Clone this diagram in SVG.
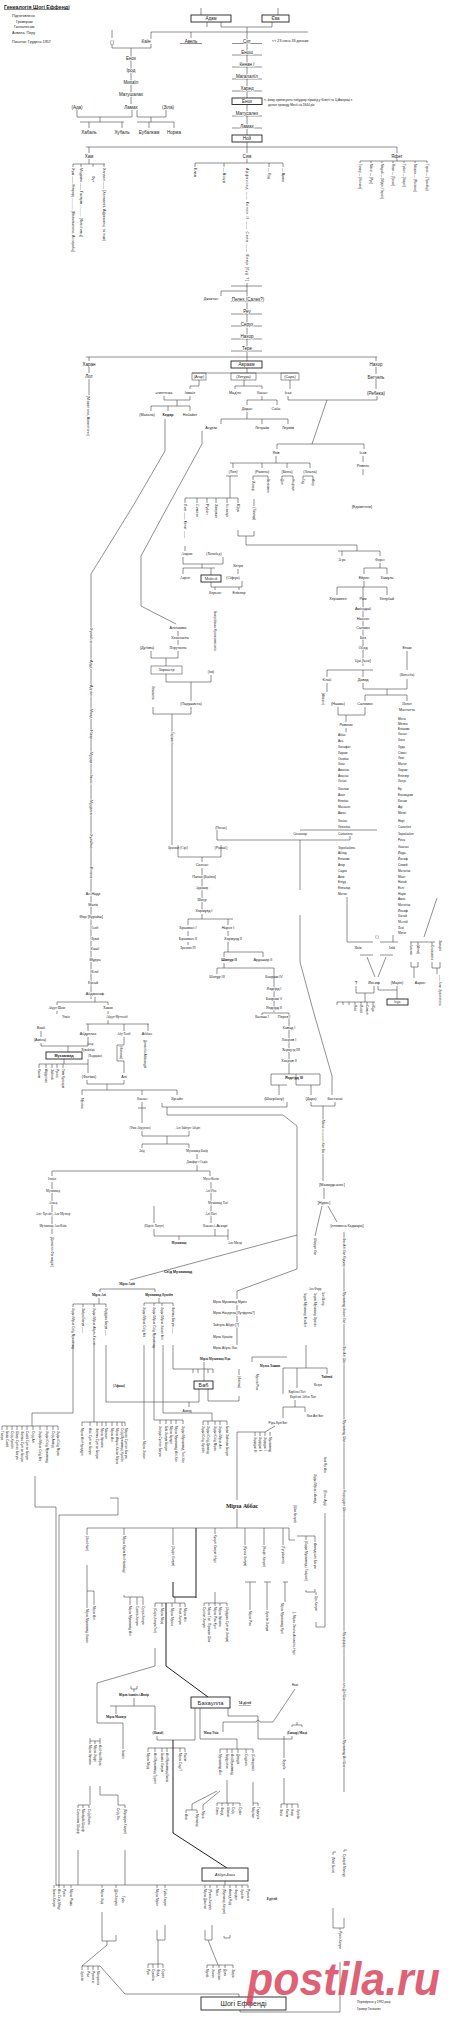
<svg xmlns="http://www.w3.org/2000/svg" width="460" height="2018" viewBox="0 0 460 2018">
<style>
text{font-family:"Liberation Sans",Arial,sans-serif;font-size:4.5px;fill:#1a1a1a;text-anchor:middle;dominant-baseline:central}
.s{font-size:3.7px}
.xs{font-size:3.1px}
.l,.v{text-anchor:start}
.b{font-weight:bold}
.h{stroke:#fff;stroke-width:1.3px;paint-order:stroke;stroke-linejoin:round}
.sf{font-family:"Liberation Serif",serif}
.c{stroke:#333;stroke-width:.55;fill:none}
.k{stroke:#222;stroke-width:1;fill:none}
.bx{fill:#fff;stroke:#222;stroke-width:.9}
.bt{fill:none;stroke:#333;stroke-width:.5}
</style>
<rect width="460" height="2018" fill="#fff"/>
<g id="connectors">
<path class="c" d="M201,8V15 M278,8V15 M207,22V27 M221,22V27H272V22 M247,27V32 M151,32H308 M151,32V39 M191,32V38 M247,32V135
M180,43.5H202 M232,43.5H262 M232,55H262 M232,67H262 M232,79H262 M232,91H262 M232,116H262 M232,128H262
M112,30V38 M112,44V48H151V44 M131,48V104 M77,110V117H132V110 M100,117V122 M80,122H124 M89,122V128 M122,122V128
M137,110V117H166V110 M151,117V122 M137,122H174 M149,122V128 M174,122V128
M247,142V147 M86,147H397 M89,147V153 M247,147V153 M397,147V153
M89,159V164 M73,164H105 M73,164V167 M81,164V167 M93,164V167 M104,164V167
M247,159V163 M195,163H283 M195,163V167 M224,163V167 M269,163V167 M283,163V167
M397,159V161 M360,161H427 M360,161V163 M371,161V163 M382,161V163 M393,161V163 M404,161V163 M415,161V163 M427,161V163
M231,286H262 M247,283V361 M221,291H247 M221,291V296 M231,301.5H264 M231,314H262 M231,326H262 M231,339H262 M231,351H262
M86,357H377 M89,357V361 M376,357V361 M89,367V373 M89,379V395 M376,367V374 M376,380V389
M247,368V373 M192,373H298
M199,380V386H190V389 M164,396V400H190V396 M177,400V406 M151,406H190 M151,406V411 M168,406V411 M190,406V411
M244,380V386 M235,386H262 M235,386V389 M262,386V389 M262,396V400 M247,400H277 M247,400V405 M277,400V405 M247,412V419 M221,419H288 M221,419V424 M262,419V424 M288,419V424
M290,380V389 M288,396V400H377V396 M327,400L312,444 M277,444H364 M277,444V449 M364,444V449 M363,456V462 M363,469V475
M276,456V463 M230,463H310 M233,463V468 M262,463V468 M287,463V468 M310,463V468
M226,476H238 M230,476V498 M185,498H238 M185,498V503 M197,498V503 M207,498V503 M216,498V503 M227,498V503 M238,498V503
M253,476H268 M253,476V480 M268,476V479 M282,476H293 M282,476V479 M293,476V479 M303,476H313 M303,476V479 M313,476V479 M254,499V506
M238,530V536H254V531 M246,536V545H357V551 M338,551H380 M342,551V556 M380,551V556
M380,563V568 M364,568H387 M364,568V574 M387,568V574 M364,581V587 M337,587H387 M337,587V595 M387,587V595 M363,587V666
M327,670H373 M327,670V677 M363,670V677 M407,651V670 M363,683V689H407V679 M387,689V695 M365,695H407 M365,695V701 M407,695V701 M327,683V692
M338,707V715H365V707 M346,715V722 M346,728V732
M185,546V551 M183,557V564H223V557 M202,564V568 M183,568H215 M183,568V574 M211,568V575 M238,569V574 M211,582V587H242V581 M215,587V590 M239,587V590
M165,419V451L133,506L91,574V999
M202,431V444L168,506L141,556V606L176,624
M178,631V645 M151,651V658H178V651 M166,658V666
M166,674V682H211V675 M191,682V701 M153,707V714H191V707 M172,714V845
M217,830V840H350V836 M300,830H377 M300,840V890 M300,915V962L313,1010L332,1076V1095
M178,845V857H221V845 M202,857V862 M202,868V911 M202,914V919 M188,919H233 M188,919V925 M228,919V925 M188,931V936 M188,942V945 M228,931V936 M228,942V952 M224,952H263 M224,952V957 M263,952V957 M224,963V968 M217,968H274 M217,968V974 M274,968V1012
M262,1013H289 M262,1013V1015 M289,1013V1074 M271,1074H320 M271,1074V1085H287 M279,1085V1095 M296,1074V1085H320V1074 M311,1085V1095
M311,1102V1106H335V1102 M323,1106V1181 M324,1188V1199 M322,1206L315,1236 M328,1206L337,1222
M347,897V942H373 M393,935V942 M380,942H398 M360,955H373 M380,955H393 M367,957L375,977 M386,957L378,977 M356,986V993H374V986 M378,986V990H397V986 M397,990V999 M365,993V1002 M337,1002H375 M337,1002V1005 M343,1002V1005 M349,1002V1005 M355,1002V1005 M361,1002V1005 M367,1002V1005 M373,1002V1005
M437,898L424,937 M410,942H435 M411,942V945 M418,942V945 M411,962V967H418V962 M414,967V978 M432,942V945 M432,962V968H440V962 M437,968V974
M95,997V1002 M57,1002H108 M57,1002V1005 M108,1002V1005 M57,1011V1014 M108,1011V1014 M108,1020V1024 M86,1024H149 M88,1024V1031 M124,1024V1031 M148,1024V1031
M41,1031V1037 M41,1043V1046H68V1052 M88,1037V1046H68 M88,1059V1064 M64,1059V1064 M39,1064H88 M39,1064V1068 M46,1064V1068 M52,1064V1068 M57,1064V1068 M63,1064V1068 M88,1064V1073
M124,1037V1045 M117,1045H124 M117,1045V1061H124 M124,1061V1073 M87,1080V1084H124V1080 M107,1084V1090 M82,1090H177 M82,1090V1095 M142,1090V1095 M177,1090V1095
M142,1102V1123 M138,1108H146 M162,1103V1107H287V1102 M167,1107V1115H283L297,1126V1269L237,1291V1299 M297,1235L130,1280
M142,1131V1136H189V1131 M167,1136V1144 M142,1144H189 M142,1144V1148 M189,1144V1148 M197,1154V1159 M197,1165V1171 M52,1171H210 M52,1171V1176 M210,1171V1176
M52,1182V1234 M211,1182V1223 M154,1206V1223 M154,1229V1236H228V1229 M215,1229V1236 M179,1236V1240 M228,1236V1240
M100,1289H155 M100,1289V1292 M155,1289V1292 M99,1298V1304 M73,1304H106 M73,1304V1307 M83,1304V1307 M94,1304V1307 M106,1304V1307 M159,1298V1303 M144,1303H173 M144,1303V1306 M154,1303V1306 M162,1303V1306 M173,1303V1306
M237,1305V1345 M173,1345V1369H213 M193,1369V1373 M198,1369V1373 M208,1369V1373 M213,1369V1373 M204,1362V1381 M252,1357H287 M252,1357V1362 M239,1369V1375
M106,1345V1402H199V1389 M208,1389V1401H239V1396 M189,1402V1407 M163,1345V1413H212V1421 M203,1421H227 M203,1421V1425 M208,1421V1425 M215,1421V1425 M220,1421V1425 M227,1421V1425
M154,1345V1420H183 M160,1420V1424 M166,1420V1424 M171,1420V1424 M176,1420V1424 M183,1420V1424 M144,1345V1440
M94,1345V1422 M82,1422H125 M82,1422V1426 M90,1422V1426 M97,1422V1426 M102,1422V1426 M106,1422V1426 M112,1422V1426 M117,1422V1426 M122,1422V1426 M125,1422V1426
M73,1345V1413H32V1426 M2,1426H58 M2,1426V1430 M7,1426V1430 M12,1426V1430 M17,1426V1430 M22,1426V1430 M27,1426V1430 M33,1426V1430 M40,1426V1430 M47,1426V1430 M53,1426V1430 M58,1426V1430
M35,1476V1507H56V1886 M110,1498H118V1515H59V1886
M306,1345V1368 M283,1368H327 M283,1368V1394 M297,1368V1388 M327,1368V1374 M295,1400V1407 M283,1407H305 M283,1407V1418 M305,1407V1412
M275,1426L265,1432H237V1500 M255,1432V1436 M260,1432V1436 M265,1432V1436 M270,1432V1436
M237,1509V1528 M87,1528H289 M87,1528V1535 M124,1528V1535 M173,1528V1545 M215,1528V1534 M245,1528V1545 M264,1528V1545 M283,1528V1545 M289,1528V1540H295
M87,1565V1608 M87,1591H94V1605 M124,1595V1597H143 M130,1597V1605 M137,1597V1605 M143,1597V1605
M175,1597V1603 M155,1603H185 M155,1603V1607 M162,1603V1607 M172,1603V1607 M180,1603V1607 M185,1603V1607
M155,1648V1666L97,1683V1723H123V1749
M215,1592V1603 M204,1603H227 M204,1603V1606 M209,1603V1606 M215,1603V1606 M220,1603V1606 M227,1603V1606
M245,1582H256 M250,1582V1610 M264,1582H271 M267,1582V1610 M283,1582H288 M285,1582V1602
M297,1536H315 M306,1536V1540 M315,1536V1542 M306,1590V1592H315V1589 M316,1592V1595 M325,1513V1627H316V1622
M344,1232V1792
M131,1686V1689H137V1686 M134,1689V1692 M134,1698V1706 M110,1706H155 M116,1706V1714 M155,1706V1730
M195,1708V1740H157V1736 M148,1748H185 M148,1748V1752 M155,1748V1752 M162,1748V1752 M167,1748V1752 M180,1748V1752 M185,1748V1752
M200,1708V1739H237V1749 M220,1749H253 M220,1749V1753 M227,1749V1753 M232,1749V1753 M238,1749V1753 M246,1749V1753 M253,1749V1753
M228,1708V1716H258V1739H292V1736 M223,1732V1722H256Q258,1718 260,1722H273L295,1689 M292,1727V1725H302V1727 M297,1725V1722
M284,1736V1758 M284,1778V1804 M281,1804H298 M281,1804V1808 M287,1804V1808 M292,1804V1808 M298,1804V1808
M220,1791L203,1805 M217,1791L192,1804V1810 M186,1810H197 M186,1810V1813 M197,1810V1813 M203,1805V1810
M227,1780V1803 M217,1803H240 M217,1803V1806 M222,1803V1806 M228,1803V1806 M233,1803V1806 M240,1803V1806 M253,1782V1803H258 M253,1803V1806 M258,1803V1806
M90,1738V1744 M90,1741H100 M95,1741V1744 M100,1738V1744 M90,1786V1805 M78,1805H89 M78,1805V1808 M83,1805V1808 M89,1805V1808 M100,1786V1795H118V1805 M118,1805H125 M125,1805V1808
M78,1850V1885 M125,1850V1885 M56,1885H248 M225,1881V1885
M54,1885V1888 M59,1885V1888 M64,1885V1888 M71,1885V1888 M102,1885V1888 M116,1885V1888 M157,1885V1888 M165,1885V1888 M205,1885V1888 M210,1885V1888 M217,1885V1888 M224,1885V1888 M230,1885V1888 M236,1885V1888 M242,1885V1888 M248,1885V1888
M102,1912V1941H116V1935 M107,1941V1945L82,1966 M82,1966H100 M82,1966V1970 M88,1966V1970 M93,1966V1970 M98,1966V1970 M100,1966L125,1994H239V1997
M157,1930V1940H165V1925 M158,1940V1964 M148,1964H163 M148,1964V1968 M153,1964V1968 M158,1964V1968 M163,1964V1968
M205,1930V1940H212V1925 M208,1940L218,1965 M207,1965H233 M207,1965V1968 M213,1965V1968 M219,1965V1968 M225,1965V1968 M233,1965V1968 M224,1936V1938H230V1935
M333,1855V1852H336 M344,1852V1850H347 M333,1908V1928H344V1918 M340,1928V1930 M340,1962V2012H240V2010"/>
<path class="k" d="M196,1528V1598 M173,1582V1597H196 M166,1603V1666L208,1697 M173,1740V1833L227,1868"/>
</g>
<g id="header">
<text x="4" y="6.5" class="l b" style="font-size:5.2px;text-decoration:underline">Генеалогія Шогі Еффенді</text>
<text x="12" y="16" class="l s">Підготовлено</text>
<text x="16" y="21.5" class="l s">Гровером</text>
<text x="14" y="27" class="l s">Гонзалесом</text>
<text x="12" y="33" class="l s">Асвила, Перу</text>
<text x="12" y="42" class="l s">Початок: Грудень 1957</text>
</g>
<g id="n-adam"><rect class="bx" x="191" y="15" width="40" height="7"/><text x="211" y="18.5">Адам</text></g>
<g id="n-eve"><rect class="bx" x="262" y="15" width="27" height="7"/><text x="275.5" y="18.5">Єва</text></g>
<g id="lineage-cain">
<text x="146" y="41">Каїн</text><text x="191" y="41">Авель</text><text x="112" y="42">(   )</text>
<text x="131" y="58" class="h">Енох</text><text x="131" y="70" class="h">Ірод</text><text x="131" y="82" class="h">Михаїл</text><text x="131" y="94" class="h">Матушалах</text><text x="131" y="107">Ламах</text>
<text x="77" y="107">(Ада)</text><text x="168" y="107">(Зіла)</text>
<text x="89" y="132">Хабаль</text><text x="122" y="132">Хубаль</text><text x="149" y="132">Еубалкам</text><text x="174" y="132">Норма</text>
</g>
<g id="lineage-seth">
<text x="247" y="41" class="h">Сит</text><text x="272" y="41" class="l s">&lt;&lt; 23 сина    33 доньки</text>
<text x="247" y="52" class="h">Енош</text><text x="247" y="64" class="h">Кенан I</text><text x="247" y="76" class="h">Магалалїл</text><text x="247" y="88" class="h">Харед</text>
<rect class="bx" x="232" y="98" width="30" height="6.5"/><text x="247" y="101.3">Енох</text>
<text x="264" y="100" class="l xs">&lt;- йому приписують побудову пірамід у Єгипті та Ц.Америці з</text>
<text x="268" y="105" class="l xs">датою проходу Месії на 1844 рік</text>
<text x="247" y="113" class="h">Матусалех</text><text x="247" y="126" class="h">Ламах</text>
</g>
<g id="n-noah"><rect class="bx" x="232" y="135" width="30" height="7"/><text x="247" y="138.5">Ной</text></g>
<g id="sons-of-noah">
<text x="89" y="156">Хам</text><text x="247" y="156">Сим</text><text x="397" y="156">Яфет</text>
<text class="s v" transform="translate(73,168) rotate(90)">Хуш —— Німрод ............ [Вавилоняни, Ассирійці]</text>
<text class="s v" transform="translate(81,168) rotate(90)">Міцраїм —— Гаслуїм ........... [Філістимці]</text>
<text class="s v" transform="translate(93,176) rotate(90)">Фут</text>
<text class="s v" transform="translate(104,168) rotate(90)">Ханаан —— [Ханаанеї, Африканці та інші]</text>
<text class="s v" transform="translate(195,168) rotate(90)">Елам</text>
<text class="s v" transform="translate(224,168) rotate(90)">— Ассур</text>
<text class="s v h" transform="translate(247,168) rotate(90)" textLength="113">Арфаксад —— Кенан II —— Сала —— Евер [Гуд ?]</text>
<text class="s v" transform="translate(269,168) rotate(90)">— Луд</text>
<text class="s v" transform="translate(283,168) rotate(90)">— Арам</text>
<text class="xs v" transform="translate(360,164) rotate(90)">Гомер — [Кельти]</text>
<text class="xs v" transform="translate(371,164) rotate(90)">Магог — [Рус]</text>
<text class="xs v" transform="translate(382,164) rotate(90)">Мадай — [Мідія, Персія]</text>
<text class="xs v" transform="translate(393,164) rotate(90)">Яван — [Греки]</text>
<text class="xs v" transform="translate(404,164) rotate(90)">Тубал — [Іберії]</text>
<text class="xs v" transform="translate(415,164) rotate(90)">Мешех — [Росіяни]</text>
<text class="xs v" transform="translate(427,164) rotate(90)">Тирас — [Тракійці]</text>
</g>
<g id="lineage-eber">
<text x="211" y="299" class="s">Джоктан</text><text x="248" y="299" class="h">Пелех (Салех?)</text>
<text x="247" y="311" class="h">Реу</text><text x="247" y="324" class="h">Серух</text><text x="247" y="336" class="h">Нахор</text><text x="247" y="348" class="h">Тере</text>
<text x="89" y="364">Харан</text><text x="89" y="376">Лот</text>
<text class="s v" transform="translate(88,396) rotate(90)">[Моавітяни, Амонітяни]</text>
<text x="376" y="364">Нахор</text><text x="376" y="377">Бетуель</text><text x="376" y="393">(Ребека)</text>
</g>
<g id="n-abraham"><rect class="bx" x="231" y="361" width="31" height="7"/><text x="246.5" y="364.5">Авраам</text></g>
<g id="lineage-abraham">
<rect class="bt" x="192" y="373" width="14" height="7"/><text x="199" y="377" class="s">(Агар)</text>
<rect class="bt" x="231" y="373" width="25" height="7"/><text x="243.5" y="377" class="s">(Хетура)</text>
<rect class="bt" x="281" y="373" width="18" height="7"/><text x="290" y="377" class="s">(Сара)</text>
<text x="164" y="393" class="s">єгиптянка</text><text x="190" y="393" class="s">Ізмаїл</text>
<text x="147" y="415" class="s">(Махала)</text><text x="168" y="415" class="s b">Кедар</text><text x="190" y="415" class="s">Небайот</text>
<text x="235" y="393" class="s">Мад'ян</text><text x="262" y="393" class="s">Хасан</text>
<text x="247" y="409" class="s">Дедан</text><text x="276" y="409" class="s">Саба</text>
<text x="211" y="428" class="s">Асурім</text><text x="262" y="428" class="s">Летушім</text><text x="288" y="428" class="s">Леумім</text>
<text x="288" y="393" class="s">Ісак</text>
<text x="276" y="453" class="s">Яків</text><text x="363" y="453" class="s">Ісав</text><text x="363" y="466" class="s">Ревель</text><text x="362" y="507" class="s">[Едомітяни]</text>
<text x="233" y="472" class="s">(Лея)</text><text x="262" y="472" class="s">(Рахель)</text><text x="287" y="472" class="s">(Білга)</text><text x="310" y="472" class="s">(Зільпа)</text>
<text class="xs v" transform="translate(253,481) rotate(90)">Йосиф</text>
<text class="xs v" transform="translate(268,479) rotate(90)">Веніямин</text>
<text class="xs v" transform="translate(282,479) rotate(90)">Дан</text>
<text class="xs v" transform="translate(293,479) rotate(90)">Нефталі</text>
<text class="xs v" transform="translate(303,479) rotate(90)">Гад</text>
<text class="xs v" transform="translate(313,479) rotate(90)">Асер</text>
<text class="s v" transform="translate(185,504) rotate(90)">Леві —— Кегат ——</text>
<text class="s v" transform="translate(197,504) rotate(90)">Симеон</text>
<text class="s v" transform="translate(207,504) rotate(90)">Рубен</text>
<text class="s v" transform="translate(216,504) rotate(90)">Завулон</text>
<text class="s v" transform="translate(227,504) rotate(90)">Іссахар</text>
<text class="s v" transform="translate(238,504) rotate(90)">Юда</text>
<text class="s v" transform="translate(254,507) rotate(90)">(Тамар)</text>
</g>
<g id="lineage-moses">
<text x="187" y="554" class="s sf">Амрам</text><text x="214" y="554" class="s sf">(Хочабед)</text>
<text x="185" y="578" class="s sf">Аарон</text><text x="233" y="578" class="s sf">(Сіфора)</text><text x="238" y="566" class="s">Хетро</text>
<text x="215" y="593" class="s">Херсон</text><text x="239" y="593" class="s">Еліезер</text>
</g>
<g id="n-moses"><rect class="bx" x="201" y="575" width="20" height="7"/><text x="211" y="578.5" class="s sf">Мойсей</text></g>
<g id="lineage-david">
<text x="342" y="560" class="s sf">Зера</text><text x="380" y="560" class="s sf">Фарес</text>
<text x="364" y="578" class="s">Ейрон</text><text x="387" y="578" class="s">Хамуль</text>
<text x="338" y="599" class="s">Херамеел</text><text x="363" y="599" class="s">Рам</text><text x="387" y="599" class="s">Келубай</text>
<text x="363" y="609" class="s h">Амінадаб</text><text x="363" y="619" class="s h">Наасон</text><text x="363" y="628" class="s h">Салмон</text><text x="363" y="638" class="s h">Боз</text><text x="363" y="648" class="s h">Обед</text><text x="363" y="661" class="s h">Цаї [Ієсе]</text>
<text x="407" y="648" class="s">Елам</text><text x="407" y="675" class="s sf">(Батсеба)</text>
<text x="327" y="680" class="s">Єлаб</text><text x="363" y="680" class="s">Давид</text>
<text class="xs v" transform="translate(323,693) rotate(90)">(Абігаїл)</text>
<text x="338" y="704" class="s">(Наама)</text><text x="365" y="704" class="s">Саломон</text><text x="407" y="704" class="s sf">Натан</text><text x="407" y="710" class="s">Маттатта</text>
<text x="346" y="725" class="s">Ровоам</text>
</g>
<g id="list-matthew" class="xs">
<text x="338" y="735" class="l xs">Абіас</text><text x="338" y="741" class="l xs">Аса</text><text x="338" y="747" class="l xs">Хосафат</text><text x="338" y="752.7" class="l xs">Хорам</text><text x="338" y="758.7" class="l xs">Охозіас</text><text x="338" y="764.3" class="l xs">Хоас</text><text x="338" y="770" class="l xs">Амасіас</text><text x="338" y="775.7" class="l xs">Азасіас</text><text x="338" y="781.3" class="l xs">Уссіас</text>
<text x="338" y="789.3" class="l xs">Хоатам</text><text x="338" y="795.3" class="l xs">Ахаз</text><text x="338" y="801" class="l xs">Езекіас</text><text x="338" y="807" class="l xs">Манасес</text><text x="338" y="813" class="l xs">Амон</text>
<text x="338" y="821" class="l xs">Хосіас</text><text x="338" y="827" class="l xs">Хеконіас</text><text x="338" y="834" class="l xs">Салатіель</text>
<text x="338" y="848.3" class="l xs">Зоробабель</text><text x="338" y="853.3" class="l xs">Абіюд</text><text x="338" y="859" class="l xs">Еліаким</text><text x="338" y="865" class="l xs">Азор</text><text x="338" y="870.7" class="l xs">Садок</text><text x="338" y="876.7" class="l xs">Ахім</text><text x="338" y="882.3" class="l xs">Еліуд</text><text x="338" y="888.3" class="l xs">Елеазар</text><text x="338" y="894" class="l xs">Матан</text>
</g>
<g id="list-luke">
<text x="398" y="718.7" class="l xs">Мена</text><text x="398" y="724.3" class="l xs">Мелеа</text><text x="398" y="728.7" class="l xs">Еліаким</text><text x="398" y="734.3" class="l xs">Хонан</text><text x="398" y="740.3" class="l xs">Хосе</text><text x="398" y="747" class="l xs">Худа</text><text x="398" y="752.7" class="l xs">Сімон</text><text x="398" y="758.3" class="l xs">Леві</text><text x="398" y="763.7" class="l xs">Матат</text><text x="398" y="769.7" class="l xs">Хорам</text><text x="398" y="775.7" class="l xs">Еліезер</text><text x="398" y="781.3" class="l xs">Хесус</text>
<text x="398" y="789.3" class="l xs">Ер</text><text x="398" y="795.3" class="l xs">Ельмадам</text><text x="398" y="801" class="l xs">Косам</text><text x="398" y="807" class="l xs">Аді</text><text x="398" y="813" class="l xs">Мелкі</text>
<text x="398" y="821" class="l xs">Нері</text><text x="398" y="827" class="l xs">Салатіел</text><text x="398" y="834" class="l xs">Зоробабел</text><text x="398" y="840" class="l xs">Реса</text>
<text x="398" y="847.3" class="l xs">Хоанан</text><text x="398" y="853.3" class="l xs">Йода</text><text x="398" y="859" class="l xs">Йосеф</text><text x="398" y="865" class="l xs">Семей</text><text x="398" y="870.7" class="l xs">Мататіас</text><text x="398" y="876.7" class="l xs">Маат</text><text x="398" y="882.3" class="l xs">Нагай</text><text x="398" y="888.3" class="l xs">Еслі</text><text x="398" y="894" class="l xs">Наум</text><text x="398" y="899.3" class="l xs">Амос</text><text x="398" y="905" class="l xs">Мататіас</text><text x="398" y="910.7" class="l xs">Йосиф</text><text x="398" y="916" class="l xs">Ханай</text><text x="398" y="921.7" class="l xs sf">Мелхій</text><text x="398" y="927.7" class="l xs sf">Леві</text><text x="398" y="933.3" class="l xs sf">Матат</text>
</g>
<g id="lineage-jesus">
<text x="358" y="948" class="s sf">Яків</text><text x="392" y="948" class="s sf">Ілій</text><text x="377" y="937" class="s">(  )</text>
<text x="356" y="983">?</text><text x="374" y="983" class="s">Йосиф</text><text x="397" y="983" class="s">(Марія)</text><text x="420" y="983" class="s">Аарон</text>
<text class="xs v" transform="translate(411,945) rotate(90)">Іоаким</text>
<text class="xs v" transform="translate(418,945) rotate(90)">(Анна)</text>
<text class="xs v" transform="translate(432,945) rotate(90)">Єлизавета</text>
<text class="xs v" transform="translate(440,940) rotate(90)">Захарія</text>
<text class="xs v" transform="translate(440,975) rotate(90)">—— Іоан Хреститель</text>
<text class="xs v" transform="translate(355,1005) rotate(90)">Яків</text>
<text class="xs v" transform="translate(361,1005) rotate(90)">Йосій</text>
<text class="xs v" transform="translate(367,1005) rotate(90)">Симон</text>
<text class="xs v" transform="translate(373,1005) rotate(90)">Юда</text>
</g>
<g id="n-jesus"><rect class="bx" x="387" y="999" width="21" height="6"/><text x="397.5" y="1002" class="s">Ісус</text></g>
<g id="lineage-zoroaster">
<text x="178" y="628" class="s h">Аліламма</text><text x="180" y="638" class="s h">Хехатаспа</text><text x="178" y="648" class="s h sf">Поручаспа</text><text x="147" y="648" class="s">(Дуґова)</text>
<rect class="bt" x="151" y="666" width="31" height="8"/><text x="166.5" y="670" class="s">Зороастр</text>
<text class="xs v" transform="translate(215,611) rotate(90)">Бактрійська Франкомасонія</text>
<text x="211" y="672" class="xs">(Іов)</text>
<text class="xs v" transform="translate(153,686) rotate(90)">Хвазаспа</text>
<text x="191" y="704" class="s">(Парушиста)</text>
<text class="xs v h" transform="translate(172,732) rotate(90)">Ґаршасп</text>
</g>
<g id="lineage-sasanid">
<text x="221" y="828" class="xs">(Піннас)</text><text x="300" y="834" class="xs h">Сенхазар</text>
<text x="178" y="848" class="xs sf">Брахман [Сірі]</text><text x="221" y="848" class="s">(Рахаб)</text>
<text x="202" y="865" class="s h">Сапсан</text><text x="204" y="877" class="s h">Папак [Бабек]</text><text x="202" y="888" class="xs h sf">Ардашир</text><text x="202" y="900" class="xs h sf">Шапур</text><text x="204" y="911" class="s h">Хормузд I</text>
<text x="188" y="928" class="s">Брахман I</text><text x="228" y="928" class="s">Нарсе I</text><text x="188" y="939" class="s">Брахман II</text><text x="233" y="939" class="s">Хормузд II</text><text x="188" y="948" class="xs sf">Брахман III</text>
<text x="229" y="960" class="s b">Шапур II</text><text x="263" y="960" class="s">Ардашир II</text>
<text x="217" y="977" class="s">Шапур III</text><text x="274" y="977" class="s">Бахрам IV</text>
<text x="274" y="989" class="s h">Яздгірд I</text><text x="274" y="999" class="s h">Бахрам V</text><text x="274" y="1008" class="s h">Яздгірд II</text>
<text x="262" y="1017" class="s h">Балаш I</text><text x="284" y="1017" class="s h">Пероз I</text>
<text x="289" y="1028" class="s h">Кавад I</text><text x="289" y="1040" class="s h">Хосров I</text><text x="291" y="1050" class="s h sf">Хормузд III</text><text x="289" y="1061" class="s h">Хосров II</text>
<text x="294" y="1078" class="s b">Яздгірд III</text>
<text x="274" y="1099" class="s">(Шахрбану)</text><text x="311" y="1099" class="s">(Дара)</text><text x="335" y="1099" class="s">Бостанаї</text>
<text class="xs v h" transform="translate(323,1120) rotate(90)">Махої ———— Хан Бег</text>
<text x="332" y="1185" class="s">[Махмудсанес]</text><text x="324" y="1203" class="s">[Нурес]</text><text x="347" y="1226" class="s">[племена Каджара]</text>
<text class="xs v h" transform="translate(315,1238) rotate(90)">Шахрух Хан</text>
<text x="315" y="1289" class="xs sf">Ага Фарр</text>
<text class="xs v sf" transform="translate(305,1293) rotate(90)">Хаджі Мухаммад Різа Бег</text>
<text class="xs v sf" transform="translate(315,1293) rotate(90)">Хаджі Мухаммад Ібрахім</text>
<text class="xs v sf" transform="translate(323,1292) rotate(90)">Хасі Багір</text>
</g>
<g id="lineage-qajar">
<text class="xs v h" transform="translate(344,1238) rotate(90)">Фаз Алі Хан Каджар</text>
<text class="xs v h" transform="translate(344,1292) rotate(90)">Мухаммад Хасан Хан</text>
<text class="xs v h" transform="translate(344,1346) rotate(90)">Фаз Алі Шах</text>
<text class="xs v h" transform="translate(344,1420) rotate(90)">Мухаммад Шах</text>
<text class="xs v h" transform="translate(344,1490) rotate(90)">Насреддин Шах</text>
<text class="xs v h" transform="translate(344,1632) rotate(90)">Музаффар</text>
<text class="xs v h" transform="translate(344,1683) rotate(90)">ель-Дін Шах</text>
<text class="xs v h" transform="translate(344,1740) rotate(90)">Мухаммад Алі Шах</text>
</g>
<g id="lineage-arabs">
<text class="s v h" transform="translate(91,628) rotate(90)">Хумайса</text>
<text class="s v h" transform="translate(91,660) rotate(90)">Адуд</text>
<text class="s v h" transform="translate(91,685) rotate(90)">Аднан</text>
<text class="s v h" transform="translate(91,709) rotate(90)">Маад</text>
<text class="s v h" transform="translate(91,730) rotate(90)">Нізар</text>
<text class="s v h" transform="translate(91,752) rotate(90)">Мудар</text>
<text class="s v h" transform="translate(91,775) rotate(90)">Ільяс</text>
<text class="s v h" transform="translate(91,800) rotate(90)">Мудрика</text>
<text class="s v h" transform="translate(91,834) rotate(90)">Хузайма</text>
<text class="s v h" transform="translate(91,867) rotate(90)">Кінана</text>
<text x="93" y="894" class="s h">Ан-Надр</text><text x="93" y="905" class="s h">Малік</text><text x="91" y="917" class="s h">Фіхр [Курайш]</text><text x="95" y="928" class="xs h sf">Ґаліб</text><text x="95" y="939" class="xs h sf">Лувай</text><text x="95" y="949" class="s h">Кааб</text><text x="95" y="960" class="s h">Мурра</text><text x="95" y="972" class="xs h sf">Кілаб</text><text x="93" y="983" class="s h">Кусай</text><text x="95" y="994" class="s h">Абдманаф</text>
<text x="57" y="1008" class="xs sf">Абдул-Шамс</text><text x="108" y="1008" class="xs sf">Хашим</text>
<text x="66" y="1017" class="xs sf">Умаїя</text><text x="117" y="1017" class="xs sf">Абдул-Мутталіб</text>
<text x="88" y="1034" class="s">Абдуллах</text><text x="124" y="1034" class="xs sf">Абу-Таліб</text><text x="147" y="1034" class="s">Аббас</text>
<text class="xs v" transform="translate(145,1040) rotate(90)">Династія Аббасидів</text>
<text x="41" y="1028" class="s">Вахб</text><text x="40" y="1040" class="s">(Аміна)</text>
<text x="90" y="1044" class="xs sf">Асад</text><text x="88" y="1050" class="xs sf">Хувайліда</text><text x="95" y="1056" class="xs sf">(Хадиджа)</text>
<text class="xs v" transform="translate(39,1069) rotate(90)">Касим</text>
<text class="xs v" transform="translate(46,1069) rotate(90)">Абдуллах</text>
<text class="xs v" transform="translate(52,1069) rotate(90)">Зайнаб</text>
<text class="xs v" transform="translate(57,1069) rotate(90)">Рукая</text>
<text class="xs v" transform="translate(63,1069) rotate(90)">Умм Кульсум</text>
<text x="89" y="1077" class="s">(Фатіма)</text><text x="124" y="1077" class="s">Алі</text>
<text class="xs v" transform="translate(121,1046) rotate(90)">(Фатима)</text>
<text class="xs v sf" transform="translate(82,1098) rotate(90)">Мухсин</text>
<text x="142" y="1099" class="s">Хасан</text><text x="177" y="1099" class="s">Хусайн</text>
<text x="140" y="1128" class="xs sf">(Умм Абдуллах)</text><text x="188" y="1128" class="xs sf">Алі-Зайнул-Абідін</text>
<text x="142" y="1151" class="xs sf">Заїд</text><text x="197" y="1151" class="xs sf">Мухаммад Бакір</text><text x="197" y="1162" class="xs sf">Джафар-і-Садік</text>
<text x="52" y="1179" class="xs h sf">Ізмаїл</text><text x="53" y="1191" class="xs h sf">Мухаммад</text><text x="53" y="1203" class="xs h sf">Ахмед</text><text x="53" y="1214" class="xs h sf">Аль- Хусейн, Аль-Мухтар</text><text x="53" y="1226" class="xs h sf">Мухаммад Аль-Каїм</text>
<text class="xs v h" transform="translate(52,1237) rotate(90)">[Династія Фатимідів]</text>
<text x="211" y="1179" class="xs h sf">Муса-Казім</text><text x="211" y="1191" class="xs h sf">Алі-Різа</text><text x="218" y="1203" class="xs h sf">Мухаммад Тагі</text><text x="211" y="1214" class="xs h sf">Алі-Нагі</text><text x="215" y="1226" class="s h">Хасан-і-Аскарі</text>
<text x="154" y="1226" class="xs sf">(Наргіс Хатун)</text>
<text x="179" y="1243" class="xs b sf">Мухаммад</text><text x="235" y="1243" class="xs sf">Аль-Махді</text>
</g>
<g id="n-muhammad"><rect class="bx" x="46" y="1052" width="36" height="7"/><text x="64" y="1055.5" class="s b">Мухаммад</text></g>
<g id="lineage-sayyids">
<text x="178" y="1272" class="s b">Сеїд Мухаммад</text>
<text x="127" y="1284" class="xs b sf">Мірза Адій</text>
<text x="99" y="1295" class="xs b sf">Мірза Алі</text><text x="159" y="1295" class="xs b">Мухаммад Хусейн</text>
<text class="xs v" transform="translate(73,1308) rotate(90)">Хаджі Мірза Сеїд Мухаммад</text>
<text class="xs v" transform="translate(83,1308) rotate(90)">Зайра Багум ——</text>
<text class="xs v" transform="translate(94,1308) rotate(90)">Хаджі Мірза Абуль-Касим</text>
<text class="xs v" transform="translate(106,1308) rotate(90)">Хадіджа Багум ——</text>
<text class="xs v" transform="translate(144,1307) rotate(90)">Хаджі Мірза Сеїд Алі</text>
<text class="xs v" transform="translate(154,1307) rotate(90)">Хаджі Мірза Сеїд Мухаммад</text>
<text class="xs v" transform="translate(162,1307) rotate(90)">Хаджі Мірза Хасан Алі</text>
<text class="xs v" transform="translate(173,1307) rotate(90)">Фатіма Багум ——</text>
<text x="213" y="1302" class="l xs h">Мірза Мухаммад Мумін</text>
<text x="213" y="1313" class="l xs h">Мірза Насрулла [Лутфулла?]</text>
<text x="213" y="1325" class="l xs h">Зайнуль Абідін [?]</text>
<text x="213" y="1337" class="l xs h">Мірза Ібрахім</text>
<text x="213" y="1348" class="l xs h">Мірза Абуль-Фас</text>
<text x="215" y="1359" class="xs b sf">Мірза Мухаммад Ріда</text>
<text x="270" y="1366" class="xs b sf">Мулла Хашим</text>
<text class="xs v" transform="translate(239,1376) rotate(90)">(Фатіма)</text>
<text class="xs v" transform="translate(257,1374) rotate(90)">Мулла Різа</text>
<text x="119" y="1386" class="xs b sf">[Афнан]</text>
<text x="187" y="1411" class="xs">Ахмед</text>
<text class="xs v" transform="translate(144,1441) rotate(90)">Мірза Хасан</text>
<text class="xs v" transform="translate(203,1426) rotate(90)">Хаджі Сеїд Хусейн</text>
<text class="xs v" transform="translate(208,1426) rotate(90)">Хаджі Сеїд Джавад</text>
<text class="xs v" transform="translate(215,1426) rotate(90)">Хаджі Сеїд Мірза</text>
<text class="xs v" transform="translate(220,1426) rotate(90)">Хаджі Мірза Алі</text>
<text class="xs v" transform="translate(227,1426) rotate(90)">Баба Зайнаба Багум</text>
<text class="xs v" transform="translate(160,1426) rotate(90)">Хатідж Султан Багум</text>
<text class="xs v" transform="translate(166,1426) rotate(90)">Бібі Ханум Багум</text>
<text class="xs v" transform="translate(171,1426) rotate(90)">Мірза Бузург</text>
<text class="xs v" transform="translate(176,1426) rotate(90)">Мірза Мухаммад Алі Хан</text>
<text class="xs v" transform="translate(183,1426) rotate(90)">Хаджі Мухаммад Тагі Хан</text>
<text class="xs v" transform="translate(82,1428) rotate(90)">Мірза Алі Нураддін</text>
<text class="xs v" transform="translate(90,1428) rotate(90)">Асіє Султан Багум</text>
<text class="xs v" transform="translate(97,1428) rotate(90)">Фатіма Султан Багум</text>
<text class="xs v" transform="translate(102,1428) rotate(90)">Мірза Ібрахім</text>
<text class="xs v" transform="translate(106,1428) rotate(90)">Махкан</text>
<text class="xs v" transform="translate(112,1428) rotate(90)">Мірза Алі</text>
<text class="xs v" transform="translate(117,1428) rotate(90)">Мірза Абуль Хасан Мірза</text>
<text class="xs v" transform="translate(122,1428) rotate(90)">Сеїд Мухаммад Хусейн</text>
<text class="xs v" transform="translate(126,1428) rotate(90)">Марзія Султан Багум</text>
<text class="xs v" transform="translate(2,1431) rotate(90)">Тахіра</text>
<text class="xs v" transform="translate(7,1431) rotate(90)">Баба Сахіб</text>
<text class="xs v" transform="translate(12,1431) rotate(90)">Сеїд Хусейн</text>
<text class="xs v" transform="translate(17,1431) rotate(90)">Шахр Султан Багум</text>
<text class="xs v" transform="translate(22,1431) rotate(90)">Фатіма Султан Багум</text>
<text class="xs v" transform="translate(27,1431) rotate(90)">Сахіб Султан Багум</text>
<text class="xs v" transform="translate(33,1431) rotate(90)">Сеїд Алі</text>
<text class="xs v" transform="translate(40,1431) rotate(90)">Хаджі Мірза Сеїд Алі</text>
<text class="xs v" transform="translate(47,1431) rotate(90)">Хаджі Сеїд Мухаммад</text>
<text class="xs v" transform="translate(53,1431) rotate(90)">Сеїд Ахмед</text>
<text class="xs v" transform="translate(58,1431) rotate(90)">Хаджі Сеїд Мірза</text>
</g>
<g id="n-bab"><rect class="bx" x="194" y="1381" width="19" height="8"/><text x="203.5" y="1385.3" style="font-size:5.5px">Баб</text></g>
<g id="lineage-nuri">
<text x="327" y="1377" class="xs b">Тайнаб</text><text x="318" y="1385" class="xs sf">Казум</text><text x="297" y="1392" class="xs sf">Карбілаї Тагі</text><text x="303" y="1397" class="xs sf">Карбілаї Аббас Хан</text>
<text x="278" y="1423" class="xs">Ріда-Кулі Бег</text><text x="315" y="1416" class="xs">Фаз Алі Бег</text>
<text class="xs v" transform="translate(255,1437) rotate(90)">Хадиджі III</text>
<text class="xs v" transform="translate(260,1437) rotate(90)">Хадиджі II</text>
<text class="xs v" transform="translate(265,1437) rotate(90)">Хадиджі I</text>
<text class="xs v" transform="translate(270,1437) rotate(90)">Мухаммад</text>
<text class="xs v" transform="translate(325,1457) rotate(90)">Ісмі Яр Ага</text>
<text class="xs v" transform="translate(315,1474) rotate(90)">Хаджі Мірза-і-Ахмад</text>
<text class="xs v" transform="translate(325,1490) rotate(90)">(Ель-і-Ауд)</text>
<text x="242" y="1506" class="b sf" style="font-size:5.8px">Мірза Аббас</text>
<text class="xs v" transform="translate(295,1505) rotate(90)">(Шах Бегум)</text>
<text class="xs v" transform="translate(87,1536) rotate(90)">(Хан-Нані)</text>
<text class="xs v" transform="translate(94,1606) rotate(90)">Мірза Алі</text>
<text class="xs v" transform="translate(87,1609) rotate(90)">Мірза Мухаммад Хасан</text>
<text class="xs v" transform="translate(124,1536) rotate(90)">Мірза Карім Алі Навабаді</text>
<text class="xs v" transform="translate(130,1606) rotate(90)">Мірза Мухаммад Алі</text>
<text class="xs v" transform="translate(137,1606) rotate(90)">Саквіа Ханум</text>
<text class="xs v" transform="translate(143,1606) rotate(90)">Сугра Ханум</text>
<text class="xs v" transform="translate(173,1546) rotate(90)">(Хадія Ханум)</text>
<text class="xs v" transform="translate(155,1608) rotate(90)">(Сара Ханум Ухт)</text>
<text class="xs v" transform="translate(162,1608) rotate(90)">Мірза Міхді</text>
<text class="xs v" transform="translate(172,1608) rotate(90)">Мірза Мусса</text>
<text class="xs v" transform="translate(180,1608) rotate(90)">Наві Ханум</text>
<text class="xs v" transform="translate(185,1608) rotate(90)">Мірза Алі</text>
<text class="xs v" transform="translate(215,1535) rotate(90)">Кучулі Ханум і Нурі</text>
<text class="xs v" transform="translate(204,1607) rotate(90)">Султан Ханум</text>
<text class="xs v" transform="translate(209,1607) rotate(90)">Мірза Тагі, Пірашан Шах</text>
<text class="xs v" transform="translate(215,1607) rotate(90)">Мірза Різа Кулі</text>
<text class="xs v" transform="translate(220,1607) rotate(90)">Мірза Ібрахім</text>
<text class="xs v" transform="translate(227,1607) rotate(90)">(Хадіджа Султан Ханум)</text>
<text class="xs v" transform="translate(245,1546) rotate(90)">(Кучак Ханум)</text>
<text class="xs v" transform="translate(250,1611) rotate(90)">Мірза Різа</text>
<text class="xs v" transform="translate(264,1546) rotate(90)">(Нафіт Ханум)</text>
<text class="xs v" transform="translate(267,1611) rotate(90)">Хусейн Ханум</text>
<text class="xs v" transform="translate(283,1546) rotate(90)">(Тутубахнін)</text>
<text class="xs v" transform="translate(282,1603) rotate(90)">Мірза Мухаммад Кулі</text>
<text class="xs v" transform="translate(306,1541) rotate(90)">[Хаджі Мухаммад-і Табризі]</text>
<text class="xs v" transform="translate(315,1543) rotate(90)">Ахмадсолн Бегум</text>
<text class="xs v" transform="translate(316,1596) rotate(90)">Ціа Ханум</text>
<text class="xs v" transform="translate(294,1612) rotate(90)">}- Мірза Зіналь-Альхаїн-і-Нурі</text>
</g>
<g id="n-bahaullah"><rect class="bx" x="191" y="1697" width="39" height="11"/><text x="210.5" y="1702.8" style="font-size:5.8px">Бахаулла</text></g>
<g id="lineage-bahaullah">
<text x="245" y="1703" class="xs b" style="text-decoration:underline">14 дітей</text>
<text x="134" y="1695" class="xs b">Мірза Ісмаїл-і-Вазір</text>
<text x="116" y="1717" class="xs b sf">Мірза Махмуд</text>
<text x="158" y="1733" class="xs b sf">(Наваб)</text>
<text x="211" y="1733" class="xs b sf">Махд Уліа</text>
<text x="297" y="1733" class="xs b sf">(Ґавхар) Міхді</text>
<text x="295" y="1685" class="xs">Новї</text>
<text class="xs v" transform="translate(123,1750) rotate(90)">Ісмаїл</text>
<text class="xs v" transform="translate(148,1753) rotate(90)">Мірза Міхді</text>
<text class="xs v" transform="translate(155,1753) rotate(90)">Алі Мухаммад Турані</text>
<text class="xs v" transform="translate(162,1753) rotate(90)">Баміїх Ханум</text>
<text class="xs v" transform="translate(167,1753) rotate(90)">Алі Мухаммад Бахаї</text>
<text class="xs v" transform="translate(180,1753) rotate(90)">Мірза Саді ?</text>
<text class="xs v" transform="translate(185,1753) rotate(90)">Касім</text>
<text class="xs v" transform="translate(220,1754) rotate(90)">Мухаммад Алі</text>
<text class="xs v" transform="translate(227,1754) rotate(90)">Бадіуллах</text>
<text class="xs v" transform="translate(232,1754) rotate(90)">Алі-Мухаммад</text>
<text class="xs v" transform="translate(238,1754) rotate(90)">Дюрдіа</text>
<text class="xs v" transform="translate(246,1754) rotate(90)">Садіккія</text>
<text class="xs v" transform="translate(253,1754) rotate(90)">(Самадиєх)</text>
<text class="xs v" transform="translate(284,1759) rotate(90)">Фуруґіє</text>
<text class="xs v" transform="translate(281,1809) rotate(90)">Фаїзі</text>
<text class="xs v" transform="translate(287,1809) rotate(90)">Касім</text>
<text class="xs v" transform="translate(292,1809) rotate(90)">Нахр</text>
<text class="xs v" transform="translate(298,1809) rotate(90)">Хусейн</text>
<text class="xs v" transform="translate(217,1807) rotate(90)">Лівна</text>
<text class="xs v" transform="translate(222,1807) rotate(90)">Фарід</text>
<text class="xs v" transform="translate(228,1807) rotate(90)">Шавкат</text>
<text class="xs v" transform="translate(233,1807) rotate(90)">Саїд</text>
<text class="xs v" transform="translate(240,1807) rotate(90)">Субія</text>
<text class="xs v" transform="translate(253,1807) rotate(90)">Маріам</text>
<text class="xs v" transform="translate(258,1807) rotate(90)">Таджуль</text>
<text class="xs v" transform="translate(186,1814) rotate(90)">Аніс</text>
<text class="xs v" transform="translate(197,1814) rotate(90)">Мунавар</text>
<text class="xs v" transform="translate(203,1811) rotate(90)">Муса</text>
<text class="xs v" transform="translate(90,1745) rotate(90)">Мірза Ібрахім</text>
<text class="xs v" transform="translate(95,1745) rotate(90)">Мірза Хадрі</text>
<text class="xs v" transform="translate(100,1745) rotate(90)">Алі-Накі Мірза</text>
<text class="xs v" transform="translate(78,1809) rotate(90)">Сатраяма Шаріф</text>
<text class="xs v" transform="translate(83,1809) rotate(90)">Махбуба Шаріф</text>
<text class="xs v" transform="translate(89,1809) rotate(90)">Сеїд Касім</text>
<text class="xs v" transform="translate(118,1808) rotate(90)">Сеїд Зіа</text>
<text class="xs v" transform="translate(125,1809) rotate(90)">(Мухарум Ханум)</text>
</g>
<g id="n-abdulbaha"><rect class="bx" x="202" y="1868" width="46" height="13"/><text x="225" y="1874.5" class="s" style="font-style:italic">Абдул-Баха</text></g>
<g id="lineage-abdulbaha">
<text class="xs v" transform="translate(54,1889) rotate(90)">Бахія Ханум</text>
<text class="xs v" transform="translate(59,1889) rotate(90)">Ага Сеїд Міхді</text>
<text class="xs v" transform="translate(64,1889) rotate(90)">Рухія</text>
<text class="xs v" transform="translate(71,1889) rotate(90)">Мірза Раша</text>
<text class="xs v" transform="translate(102,1889) rotate(90)">Мірза Хаді</text>
<text class="xs v" transform="translate(116,1889) rotate(90)">(Дія Ханум)</text>
<text class="xs v" transform="translate(123,1896) rotate(90)">Туба</text>
<text class="xs v" transform="translate(157,1889) rotate(90)">Мірза Мусін</text>
<text class="xs v" transform="translate(165,1889) rotate(90)">Туба Ханум</text>
<text class="xs v" transform="translate(205,1889) rotate(90)">Мірза Джалал</text>
<text class="xs v" transform="translate(210,1889) rotate(90)">(Рухха Ханум)</text>
<text class="xs v" transform="translate(217,1889) rotate(90)">Мазі</text>
<text class="xs v" transform="translate(224,1889) rotate(90)">(Мунавар Ханум)</text>
<text class="xs v" transform="translate(230,1889) rotate(90)">Ахмед Яздї</text>
<text class="xs v" transform="translate(236,1889) rotate(90)">Фарідін</text>
<text class="xs v" transform="translate(242,1889) rotate(90)">Хусейн</text>
<text class="xs v" transform="translate(248,1889) rotate(90)">Рухангіз</text>
<text x="272" y="1899" class="xs b">8 дітей</text>
<text class="xs v" transform="translate(82,1971) rotate(90)">Хусейн</text>
<text class="xs v" transform="translate(88,1971) rotate(90)">Ріаз</text>
<text class="xs v" transform="translate(93,1971) rotate(90)">Рухангіз</text>
<text class="xs v" transform="translate(98,1971) rotate(90)">Мехрангіз</text>
<text class="xs v" transform="translate(148,1969) rotate(90)">Рухі</text>
<text class="xs v" transform="translate(153,1969) rotate(90)">Сухайль</text>
<text class="xs v" transform="translate(158,1969) rotate(90)">Фуад</text>
<text class="xs v" transform="translate(163,1969) rotate(90)">Сурая</text>
<text class="xs v" transform="translate(207,1969) rotate(90)">Муніб</text>
<text class="xs v" transform="translate(213,1969) rotate(90)">Хасан</text>
<text class="xs v" transform="translate(219,1969) rotate(90)">Маріам</text>
<text class="xs v" transform="translate(225,1969) rotate(90)">Духа</text>
<text class="xs v" transform="translate(233,1969) rotate(90)">Захра</text>
<text class="xs v" transform="translate(344,1854) rotate(90)">Суварій Мансур</text>
<text class="xs v" transform="translate(333,1857) rotate(90)">(Мей Болз)</text>
<text class="xs v" transform="translate(340,1931) rotate(90)">Рухія Ханум</text>
</g>
<g id="n-shoghi"><rect class="bx" x="201" y="1997" width="85" height="13"/><text x="243.5" y="2003.8" style="font-size:7px">Шогі Еффенді</text></g>
<g id="footer">
<text x="357" y="2002" class="l xs">Перевірено у 1992 році</text>
<text x="357" y="2009" class="l xs">Гровер Гонзалес</text>
</g>
<text x="247" y="1995" textLength="193" lengthAdjust="spacingAndGlyphs" style="font-size:46px;font-weight:bold;font-style:italic;fill:#d8445c;fill-opacity:.85;dominant-baseline:alphabetic;text-anchor:start">postila.ru</text>
</svg>
